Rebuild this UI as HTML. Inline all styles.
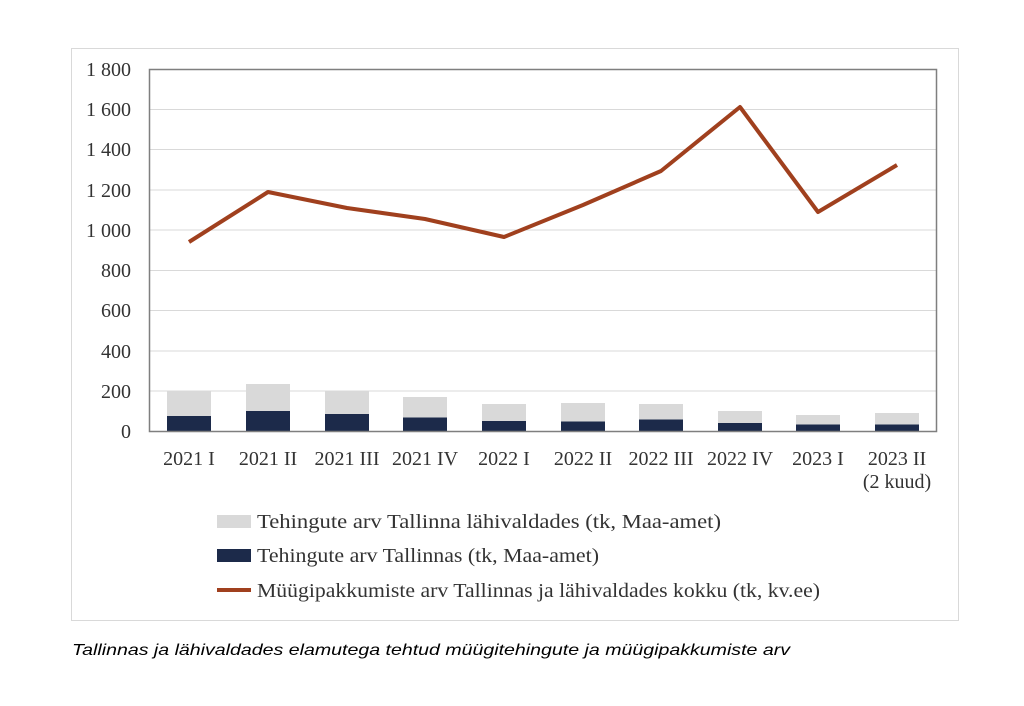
<!DOCTYPE html>
<html><head><meta charset="utf-8"><style>
body{margin:0;background:#fff;width:1024px;height:701px;overflow:hidden}
svg text{font-family:"Liberation Serif",serif;fill:#333}
</style></head><body>
<svg width="1024" height="701" viewBox="0 0 1024 701">
<rect x="71.5" y="48.5" width="887" height="572" fill="#fff" stroke="#d9d9d9"/>
<g stroke="#d9d9d9" stroke-width="1">
<line x1="150" x2="937" y1="109.5" y2="109.5"/><line x1="150" x2="937" y1="149.5" y2="149.5"/>
<line x1="150" x2="937" y1="190" y2="190"/><line x1="150" x2="937" y1="230" y2="230"/>
<line x1="150" x2="937" y1="270.5" y2="270.5"/><line x1="150" x2="937" y1="310.5" y2="310.5"/>
<line x1="150" x2="937" y1="351" y2="351"/><line x1="150" x2="937" y1="391" y2="391"/>
</g>
<g font-size="20" text-anchor="end">
<text x="131" y="76">1 800</text><text x="131" y="116">1 600</text><text x="131" y="156">1 400</text>
<text x="131" y="197">1 200</text><text x="131" y="237">1 000</text><text x="131" y="277">800</text>
<text x="131" y="317">600</text><text x="131" y="358">400</text><text x="131" y="398">200</text>
<text x="131" y="438">0</text>
</g>
<g fill="#d9d9d9">
<rect x="167" y="391" width="44" height="40"/><rect x="246" y="384" width="44" height="47"/>
<rect x="325" y="391" width="44" height="40"/><rect x="403" y="397" width="44" height="34"/>
<rect x="482" y="404" width="44" height="27"/><rect x="561" y="403" width="44" height="28"/>
<rect x="639" y="404" width="44" height="27"/><rect x="718" y="411" width="44" height="20"/>
<rect x="796" y="415" width="44" height="16"/><rect x="875" y="413" width="44" height="18"/>
</g>
<g fill="#1c2a4a">
<rect x="167" y="416" width="44" height="15"/><rect x="246" y="411" width="44" height="20"/>
<rect x="325" y="414" width="44" height="17"/><rect x="403" y="417.5" width="44" height="13.5"/>
<rect x="482" y="421" width="44" height="10"/><rect x="561" y="421.5" width="44" height="9.5"/>
<rect x="639" y="419.5" width="44" height="11.5"/><rect x="718" y="423" width="44" height="8"/>
<rect x="796" y="424.5" width="44" height="6.5"/><rect x="875" y="424.5" width="44" height="6.5"/>
</g>
<rect x="149.5" y="69.5" width="787" height="362" fill="none" stroke="#7f7f7f" stroke-width="1.5"/>
<polyline fill="none" stroke="#a0401e" stroke-width="4" stroke-linejoin="round" points="189,242 268,192 347,208 425,219 504,237 583,205 661,171 740,107 818,212 897,165"/>
<g font-size="20" text-anchor="middle">
<text x="189" y="465">2021 I</text><text x="268" y="465">2021 II</text><text x="347" y="465">2021 III</text>
<text x="425" y="465">2021 IV</text><text x="504" y="465">2022 I</text><text x="583" y="465">2022 II</text>
<text x="661" y="465">2022 III</text><text x="740" y="465">2022 IV</text><text x="818" y="465">2023 I</text>
<text x="897" y="465">2023 II</text><text x="897" y="488">(2 kuud)</text>
</g>
<rect x="217" y="515" width="34" height="13" fill="#d9d9d9"/>
<rect x="217" y="549" width="34" height="13" fill="#1c2a4a"/>
<line x1="217" x2="251" y1="590" y2="590" stroke="#a0401e" stroke-width="4"/>
<g font-size="20">
<text x="257" y="528" textLength="464" lengthAdjust="spacingAndGlyphs">Tehingute arv Tallinna lähivaldades (tk, Maa-amet)</text>
<text x="257" y="562" textLength="342" lengthAdjust="spacingAndGlyphs">Tehingute arv Tallinnas (tk, Maa-amet)</text>
<text x="257" y="597" textLength="563" lengthAdjust="spacingAndGlyphs">Müügipakkumiste arv Tallinnas ja lähivaldades kokku (tk, kv.ee)</text>
</g>
<text x="72" y="655" font-size="16" font-style="italic" textLength="718" lengthAdjust="spacingAndGlyphs" style="font-family:'Liberation Sans',sans-serif;fill:#000">Tallinnas ja lähivaldades elamutega tehtud müügitehingute ja müügipakkumiste arv</text>
</svg>
</body></html>
